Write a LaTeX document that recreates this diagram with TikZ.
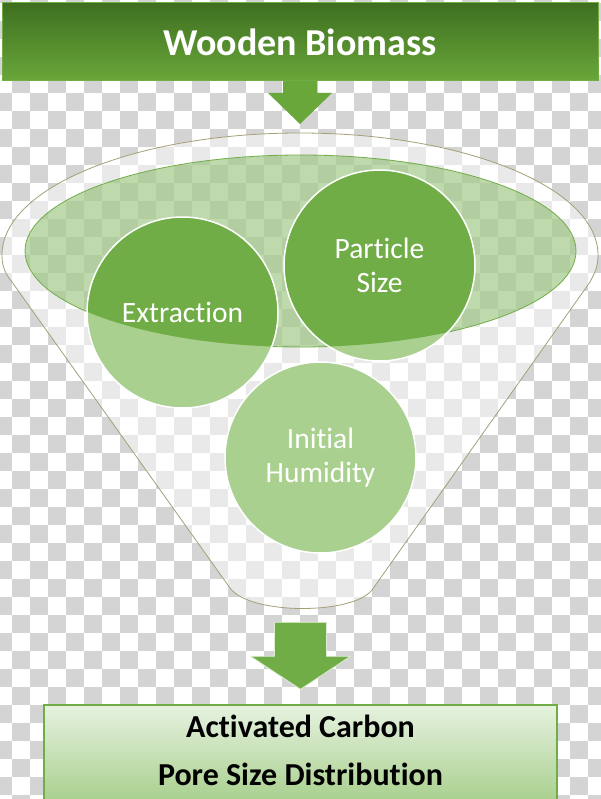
\documentclass[tikz,border=0pt]{standalone}
\usepackage{fontspec}
\setmainfont{Carlito}[Ligatures=NoCommon]
\usetikzlibrary{positioning}
\definecolor{leaf}{RGB}{112,173,71}
\definecolor{leafpale}{RGB}{169,208,142}
\definecolor{leafdark}{RGB}{62,111,32}
\definecolor{leafmid}{RGB}{106,167,58}
\definecolor{mint}{RGB}{230,242,224}
\definecolor{chk}{RGB}{212,212,212}
\definecolor{rim}{RGB}{165,160,120}

\begin{document}
\begin{tikzpicture}[x=1pt, y=-1pt,
		bubble/.style={circle, draw=white, line width=1.5pt, fill=leafpale,
			minimum size=191pt, inner sep=0pt, align=center, text=white,
			font=\fontsize{29.5}{34}\selectfont,
			path picture={\fill[leaf] (ecen) ellipse [x radius=275.5pt, y radius=96pt];}},
		banner/.style={rectangle, inner sep=0pt, line width=1pt, align=center}
	]
	\useasboundingbox[fill=white] (0,0) rectangle (600,799);
	
	\foreach \r in {0,...,45} {
		\pgfmathtruncatemacro\sh{mod(\r+1,2)*18}
		\foreach \k in {0,...,17}
			\fill[chk] ({-24+\sh+36*\k}, {-15+18*\r}) rectangle +(18,18);
	}
	
	\path[fill=white, fill opacity=0.5, draw=rim, line width=0.8pt]
		(2,255) arc[start angle=180, end angle=0, x radius=298pt, y radius=122pt]
		.. controls (598,268) and (594,274) .. (590,282) -- (372,590)
		.. controls (352,615) and (250,615) .. (230,588) -- (12,282)
		.. controls (6,274) and (2,268) .. (2,255) -- cycle;
	
	\coordinate (ecen) at (300.5,251);
	\draw[leaf, fill=leaf, fill opacity=0.45, line width=0.8pt] (ecen) ellipse [x radius=275.5pt, y radius=96pt];
	
	\node[bubble] (ext) at (182.5,312.5) {Extraction};
	\node[bubble] (psz) at (379.5,265.5) {Particle\\Size};
	\node[bubble] (hum) at (320.5,457.5) {Initial\\Humidity};
	
	\coordinate (src-s) at (300,81);
	\fill[leafmid] (src-s) ++(-17,-3) -- ++(34,0) -- ++(0,15) -- ++(15,0) -- ++(-32,31) -- ++(-32,-31) -- ++(15,0) -- cycle;
	\node[banner, top color=leafdark, bottom color=leafmid, draw=leaf,
		minimum width=596pt, minimum height=78pt, text=white,
		font=\bfseries\fontsize{38}{44}\selectfont] (src) at (300,42) {Wooden Biomass};
	
	\node[banner, top color=mint, bottom color=leafpale, draw=leaf, line width=1.5pt,
		minimum width=513pt, minimum height=96pt, text depth=6pt,
		font=\bfseries\fontsize{32}{48}\selectfont] (out) at (300.5,753) {Activated Carbon\\Pore Size Distribution};
	
	\filldraw[fill=leaf, draw=white!60!leafpale, line width=0.8pt]
		(out.north) ++(-26,-82) -- ++(52,0) -- ++(0,34) -- ++(24,0) -- ++(-50,33) -- ++(-50,-33) -- ++(24,0) -- cycle;
\end{tikzpicture}
\end{document}
